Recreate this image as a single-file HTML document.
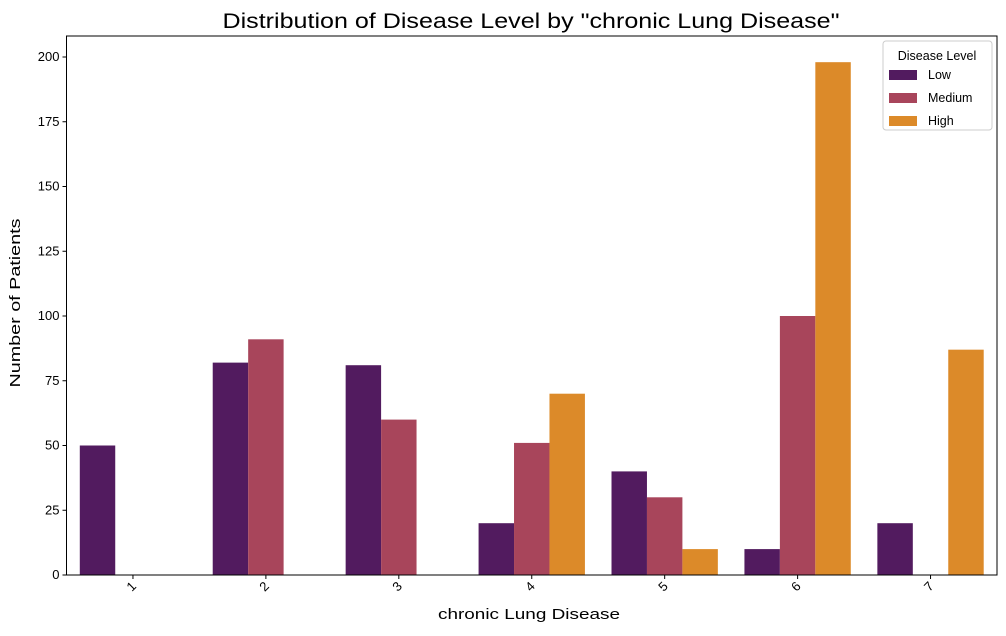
<!DOCTYPE html>
<html><head><meta charset="utf-8"><style>
body{margin:0;background:#fff;font-family:"Liberation Sans","DejaVu Sans",sans-serif;}
</style></head><body>
<svg id="chart" width="1006" height="631" xmlns="http://www.w3.org/2000/svg">
<text x="531" y="28" text-anchor="middle" font-size="21" textLength="617" lengthAdjust="spacingAndGlyphs" fill="#000">Distribution of Disease Level by "chronic Lung Disease"</text>
<g id="plot"></g>
<text x="529" y="619" text-anchor="middle" font-size="15" textLength="182" lengthAdjust="spacingAndGlyphs">chronic Lung Disease</text>
<text transform="translate(20,303) rotate(-90)" text-anchor="middle" font-size="15" textLength="169" lengthAdjust="spacingAndGlyphs">Number of Patients</text>
</svg>
<script>
const categories = ["1","2","3","4","5","6","7"];
const seriesNames = ["Low","Medium","High"];
const lowValues = [50,82,81,20,40,10,20];
const mediumValues = [0,91,60,51,30,100,0];
const highValues = [0,0,0,70,10,198,87];
const yTicks = [0,25,50,75,100,125,150,175,200];
const colors = ["#521b5f","#a8455b","#dc8a29"];

const L=66.5,R=997,T=36,B=575;
const NS="http://www.w3.org/2000/svg";
const g=document.getElementById('plot');
const step=(R-L)/categories.length;
const bw=step*0.8/3;
function x(i){return L+step*(i+0.5);}
function y(v){return B-v*(B-57)/200;}
function el(t,a){const e=document.createElementNS(NS,t);for(const k in a)e.setAttribute(k,a[k]);g.appendChild(e);return e;}
const all=[lowValues,mediumValues,highValues];
all.forEach((vals,s)=>{
  vals.forEach((v,i)=>{
    const r=el('rect',{x:x(i)-1.5*bw+s*bw,y:y(v),width:bw,height:B-y(v),fill:colors[s]});
    
    
  });
});
el('rect',{x:L,y:T,width:R-L,height:B-T,fill:'none',stroke:'#000','stroke-width':1});
yTicks.forEach(v=>{
  el('line',{x1:L-4,x2:L,y1:y(v),y2:y(v),stroke:'#000'});
  const t=el('text',{x:L-7,y:y(v)+4,'text-anchor':'end','font-size':13});
  t.textContent=v;
  
  
});
categories.forEach((c,i)=>{
  el('line',{x1:x(i),x2:x(i),y1:B,y2:B+4,stroke:'#000'});
  const t=el('text',{transform:`translate(${x(i)+4},${B+12}) rotate(-45)`,'text-anchor':'end','font-size':13});
  t.textContent=c;
  
  
});
// legend
const lg=el('rect',{x:883,y:41,width:109,height:89,fill:'#fff',stroke:'#ccc',rx:3});


const lt=el('text',{x:937,y:60,'text-anchor':'middle','font-size':12.5});
lt.textContent="Disease Level";


seriesNames.forEach((n,s)=>{
  const yy=70+s*23;
  el('rect',{x:889,y:yy,width:28,height:10,fill:colors[s]});
  const t=el('text',{x:928,y:yy+9,'font-size':12.5});
  t.textContent=n;
  
  
});
</script>
</body></html>
